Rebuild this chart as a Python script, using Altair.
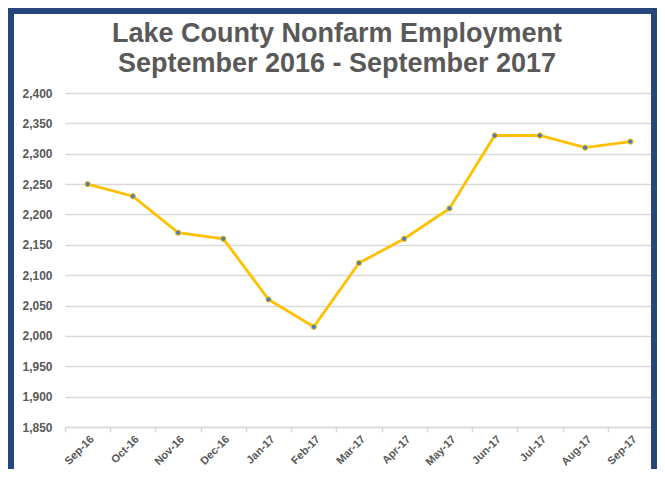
import altair as alt
import pandas as pd

months = ["Sep-16", "Oct-16", "Nov-16", "Dec-16", "Jan-17", "Feb-17", "Mar-17",
          "Apr-17", "May-17", "Jun-17", "Jul-17", "Aug-17", "Sep-17"]
employment = [2250, 2230, 2170, 2160, 2060, 2015, 2120, 2160, 2210, 2330, 2330, 2310, 2320]
y_ticks = list(range(1850, 2401, 50))

df = pd.DataFrame({"month": months, "employment": employment})

W, H = 588, 334
PAD = {"left": 57, "top": 85, "right": 4, "bottom": 42}

line = alt.Chart(df).mark_line(
    color="#FFC000", strokeWidth=2.8,
    point=alt.OverlayMarkDef(filled=True, fill="#4F7DB8", stroke="#FFC000",
                             strokeWidth=1, size=28, opacity=1),
).encode(
    x=alt.X("month:N", sort=months, title=None,
            scale=alt.Scale(paddingInner=0, paddingOuter=0),
            axis=alt.Axis(labelAngle=-45, tickBand="extent", ticks=True, tickSize=5,
                          tickColor="#D9D9D9", tickWidth=1.5, domainColor="#D9D9D9",
                          domainWidth=1.5, labelFont="Liberation Sans", labelFontWeight="bold",
                          labelFontSize=11, labelColor="#595959", labelPadding=1, grid=False)),
    y=alt.Y("employment:Q", title=None,
            scale=alt.Scale(domain=[1850, 2400], nice=False, zero=False),
            axis=alt.Axis(values=y_ticks, format=",.0f", domain=False, ticks=False,
                          gridColor="#D9D9D9", gridWidth=1.5, labelFont="Liberation Sans",
                          labelFontWeight="bold", labelFontSize=12, labelColor="#595959",
                          labelPadding=13)),
)

border = alt.Chart(df).mark_rect(
    fill=None, stroke="#24467A", strokeWidth=6, filled=False
).encode(
    x=alt.value(-PAD["left"] + 3), x2=alt.value(W + PAD["right"] - 3),
    y=alt.value(-PAD["top"] + 3), y2=alt.value(H + 120),
)

chart = alt.layer(line, border).properties(
    width=W, height=H,
    title=alt.TitleParams(
        ["Lake County Nonfarm Employment", "September 2016 - September 2017"],
        font="Liberation Sans", fontSize=27, fontWeight="bold", color="#595959",
        lineHeight=30, anchor="middle", dx=-22, dy=80, offset=10),
    autosize=alt.AutoSizeParams(type="none"),
    padding=PAD,
    background="white",
).configure_view(stroke=None)

chart.save("out.html", embed_options={"renderer": "svg", "actions": False})
